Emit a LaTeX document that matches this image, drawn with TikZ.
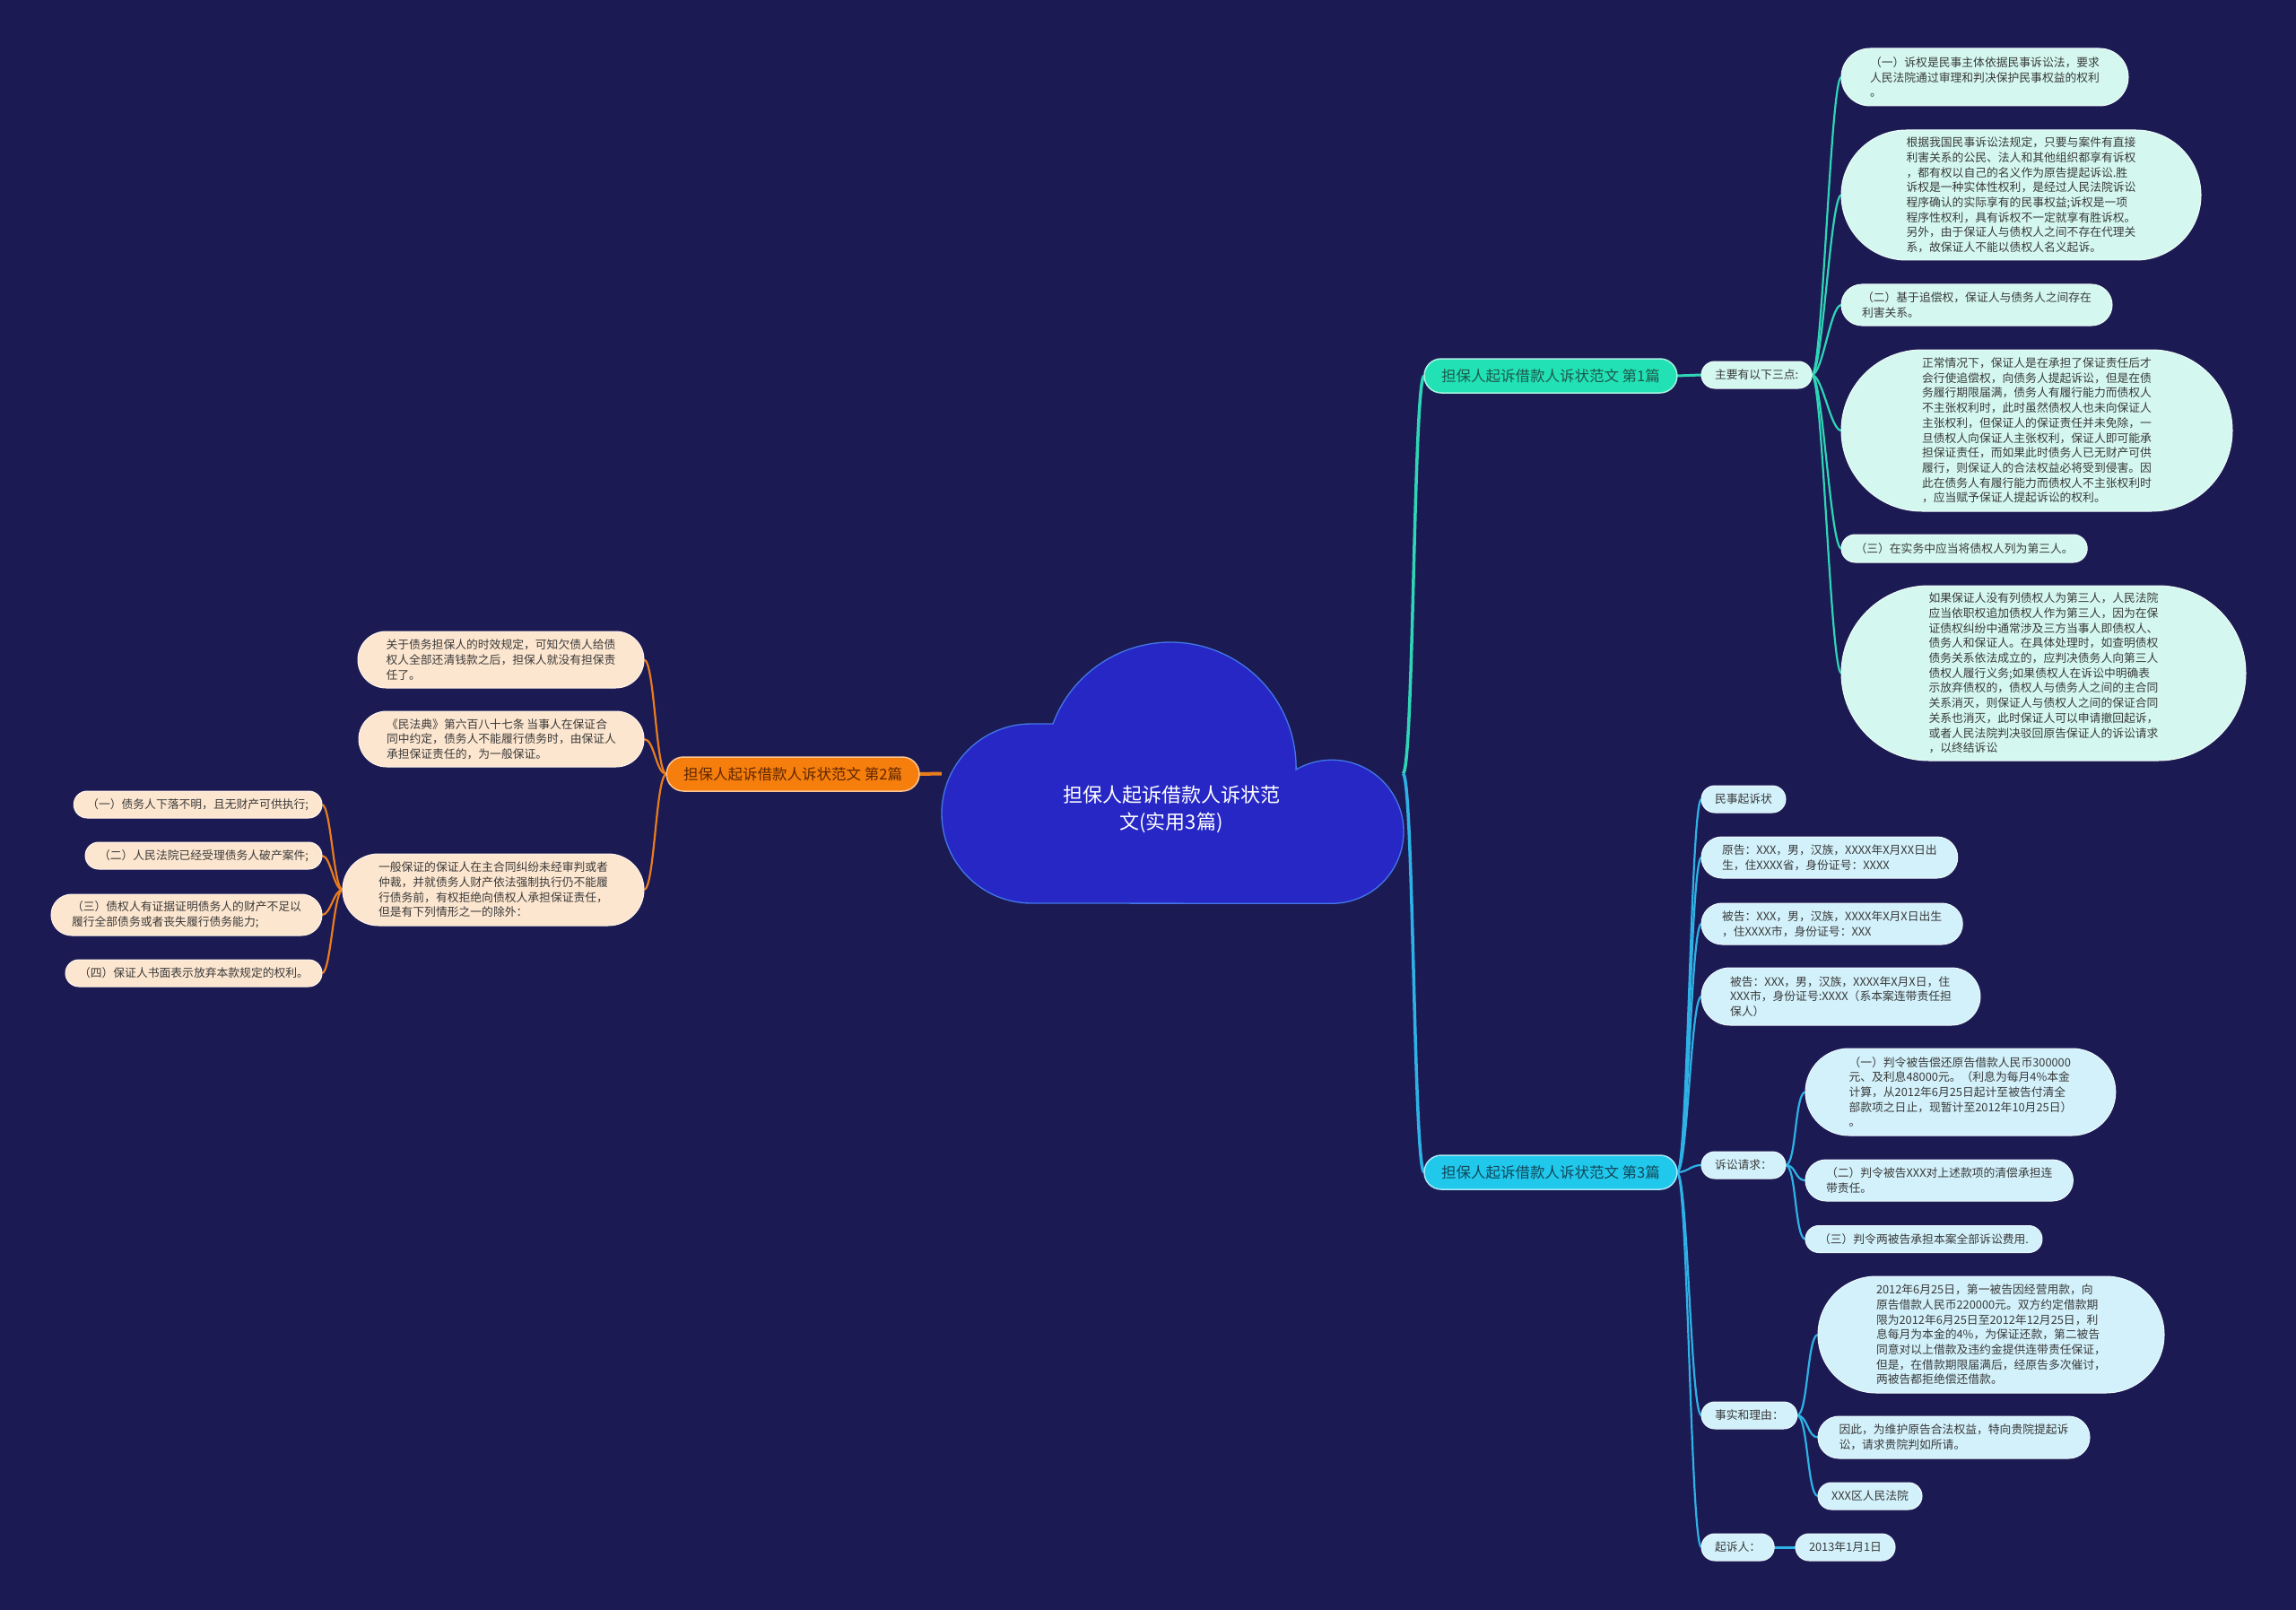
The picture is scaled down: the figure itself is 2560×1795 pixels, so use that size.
\documentclass[tikz,border=0pt]{standalone}
\usepackage{fontspec}
\setmainfont{Noto Sans CJK SC}
\pgfdeclarelayer{bg}
\pgfdeclarelayer{lines}
\pgfsetlayers{bg,lines,main}
\definecolor{bgc}{HTML}{1C1A53}
\definecolor{cloudfill}{HTML}{2727C6}
\definecolor{cloudline}{HTML}{4277E8}
\definecolor{gfill}{HTML}{22E1B5}
\definecolor{gline}{HTML}{2ED6B6}
\definecolor{gtext}{HTML}{1D5A4D}
\definecolor{gsub}{HTML}{D4F8EF}
\definecolor{ofill}{HTML}{F67E0D}
\definecolor{oline}{HTML}{E97D1E}
\definecolor{otext}{HTML}{5E2700}
\definecolor{osub}{HTML}{FDE6CF}
\definecolor{bfill}{HTML}{20C8EC}
\definecolor{bline}{HTML}{2EB2E6}
\definecolor{btext}{HTML}{12475A}
\definecolor{bsub}{HTML}{D2F1FB}
\definecolor{ntext}{HTML}{3A3A3A}
\newcommand\smallfs{\fontsize{12.8pt}{16.7pt}\selectfont}
\newcommand\midfs{\fontsize{16.5pt}{20pt}\selectfont}
\newcommand\bigfs{\fontsize{22pt}{30pt}\selectfont}
\tikzset{
  ht/.style={minimum height=#1pt, /utils/exec={\pgfmathsetmacro\halfht{#1/2}},
    inner xsep=\halfht pt, rounded corners=\halfht pt},
  pill/.style={rectangle, inner ysep=0pt, outer sep=0pt, align=left, line width=1pt},
  gnode/.style={pill, fill=gsub, draw=white!55!gsub, text=ntext, font=\smallfs},
  bnode/.style={pill, fill=bsub, draw=white!55!bsub, text=ntext, font=\smallfs},
  onode/.style={pill, fill=osub, draw=white!55!osub, text=ntext, font=\smallfs},
  gmain/.style={pill, fill=gfill, draw=white!60!gfill, line width=1.5pt, text=gtext, font=\midfs},
  bmain/.style={pill, fill=bfill, draw=white!60!bfill, line width=1.5pt, text=btext, font=\midfs},
  omain/.style={pill, fill=ofill, draw=white!55!ofill, line width=1.5pt, text=otext, font=\midfs},
  gc/.style={draw=gline, line width=2.2pt},
  bc/.style={draw=bline, line width=2.2pt},
  oc/.style={draw=oline, line width=2.2pt},
}
\begin{document}
\begin{tikzpicture}[x=1pt,y=-1pt]
\useasboundingbox (0,0) rectangle (2560,1795);
\begin{pgfonlayer}{bg}
\fill[bgc] (0,0) rectangle (2560,1795);
\end{pgfonlayer}

% central cloud
\filldraw[fill=cloudfill, draw=cloudline, line width=1.3pt]
  (1150,1007) arc[start angle=90, end angle=270, radius=100]
  -- (1174,807) arc[start angle=200.5, end angle=360, radius=140]
  -- (1445,858) arc[start angle=240, end angle=450, radius=80]
  -- cycle;
\node[minimum width=514pt, minimum height=293pt, inner sep=0pt] (root) at (1307,862.5) {};
\node[text=white, font=\bigfs, align=center] (roottext) at (1306,902) {担保人起诉借款人诉状范\\文(实用3篇)};

% branch 1
\node[gmain, ht=38, anchor=west] (br1) at (1588,419) {担保人起诉借款人诉状范文 第1篇};
\node[gnode, ht=30, anchor=west] (k1) at (1897,418) {主要有以下三点:};
\node[gnode, ht=64, anchor=west] (A1) at (2053,86) {（一）诉权是民事主体依据民事诉讼法，要求\\人民法院通过审理和判决保护民事权益的权利\\。};
\node[gnode, ht=145, anchor=west] (A2) at (2053,217.5) {根据我国民事诉讼法规定，只要与案件有直接\\利害关系的公民、法人和其他组织都享有诉权\\，都有权以自己的名义作为原告提起诉讼.胜\\诉权是一种实体性权利，是经过人民法院诉讼\\程序确认的实际享有的民事权益;诉权是一项\\程序性权利，具有诉权不一定就享有胜诉权。\\另外，由于保证人与债权人之间不存在代理关\\系，故保证人不能以债权人名义起诉。};
\node[gnode, ht=46, anchor=west] (A3) at (2053,340) {（二）基于追偿权，保证人与债务人之间存在\\利害关系。};
\node[gnode, ht=180, anchor=west] (A4) at (2053,480) {正常情况下，保证人是在承担了保证责任后才\\会行使追偿权，向债务人提起诉讼，但是在债\\务履行期限届满，债务人有履行能力而债权人\\不主张权利时，此时虽然债权人也未向保证人\\主张权利，但保证人的保证责任并未免除，一\\旦债权人向保证人主张权利，保证人即可能承\\担保证责任，而如果此时债务人已无财产可供\\履行，则保证人的合法权益必将受到侵害。因\\此在债务人有履行能力而债权人不主张权利时\\，应当赋予保证人提起诉讼的权利。};
\node[gnode, ht=31, anchor=west] (A5) at (2053,611.5) {（三）在实务中应当将债权人列为第三人。};
\node[gnode, ht=195, anchor=west] (A6) at (2053,750.5) {如果保证人没有列债权人为第三人，人民法院\\应当依职权追加债权人作为第三人，因为在保\\证债权纠纷中通常涉及三方当事人即债权人、\\债务人和保证人。在具体处理时，如查明债权\\债务关系依法成立的，应判决债务人向第三人\\债权人履行义务;如果债权人在诉讼中明确表\\示放弃债权的，债权人与债务人之间的主合同\\关系消灭，则保证人与债权人之间的保证合同\\关系也消灭，此时保证人可以申请撤回起诉，\\或者人民法院判决驳回原告保证人的诉讼请求\\，以终结诉讼};

% branch 3
\node[bmain, ht=38, anchor=west] (br3) at (1588,1307) {担保人起诉借款人诉状范文 第3篇};
\node[bnode, ht=30, anchor=west] (B1) at (1897,891) {民事起诉状};
\node[bnode, ht=46, anchor=west] (B2) at (1897,956) {原告：XXX，男，汉族，XXXX年X月XX日出\\生，住XXXX省，身份证号：XXXX};
\node[bnode, ht=46, anchor=west] (B3) at (1897,1030) {被告：XXX，男，汉族，XXXX年X月X日出生\\，住XXXX市，身份证号：XXX};
\node[bnode, ht=64, anchor=west] (B4) at (1897,1111) {被告：XXX，男，汉族，XXXX年X月X日，住\\XXX市，身份证号:XXXX（系本案连带责任担\\保人）};
\node[bnode, ht=30, anchor=west] (B5) at (1897,1299) {诉讼请求：};
\node[bnode, ht=97, anchor=west] (C1) at (2013,1217.5) {（一）判令被告偿还原告借款人民币300000\\元、及利息48000元。（利息为每月4\%本金\\计算，从2012年6月25日起计至被告付清全\\部款项之日止，现暂计至2012年10月25日）\\。};
\node[bnode, ht=46, anchor=west] (C2) at (2013,1316) {（二）判令被告XXX对上述款项的清偿承担连\\带责任。};
\node[bnode, ht=30, anchor=west] (C3) at (2013,1381.5) {（三）判令两被告承担本案全部诉讼费用.};
\node[bnode, ht=30, anchor=west] (B6) at (1897,1578) {事实和理由：};
\node[bnode, ht=130, anchor=west] (D1) at (2027,1488) {2012年6月25日，第一被告因经营用款，向\\原告借款人民币220000元。双方约定借款期\\限为2012年6月25日至2012年12月25日，利\\息每月为本金的4\%，为保证还款，第二被告\\同意对以上借款及违约金提供连带责任保证，\\但是，在借款期限届满后，经原告多次催讨，\\两被告都拒绝偿还借款。};
\node[bnode, ht=47, anchor=west] (D2) at (2027,1602.5) {因此，为维护原告合法权益，特向贵院提起诉\\讼，请求贵院判如所请。};
\node[bnode, ht=30, anchor=west] (D3) at (2027,1668) {XXX区人民法院};
\node[bnode, ht=30, anchor=west] (B7) at (1897,1725) {起诉人：};
\node[bnode, ht=30, anchor=west] (E1) at (2002,1725) {2013年1月1日};

% branch 2
\node[omain, ht=38, anchor=east] (br2) at (1025,863) {担保人起诉借款人诉状范文 第2篇};
\node[onode, ht=63, anchor=east] (L1) at (718,735.5) {关于债务担保人的时效规定，可知欠债人给债\\权人全部还清钱款之后，担保人就没有担保责\\任了。};
\node[onode, ht=62, anchor=east] (L2) at (718,824) {《民法典》第六百八十七条 当事人在保证合\\同中约定，债务人不能履行债务时，由保证人\\承担保证责任的，为一般保证。};
\node[onode, ht=80, anchor=east] (L3) at (718,992) {一般保证的保证人在主合同纠纷未经审判或者\\仲裁，并就债务人财产依法强制执行仍不能履\\行债务前，有权拒绝向债权人承担保证责任，\\但是有下列情形之一的除外：};
\node[onode, ht=30, anchor=east] (M1) at (359,897) {（一）债务人下落不明，且无财产可供执行;};
\node[onode, ht=30, anchor=east] (M2) at (359,954) {（二）人民法院已经受理债务人破产案件;};
\node[onode, ht=46, anchor=east] (M3) at (359,1020) {（三）债权人有证据证明债务人的财产不足以\\履行全部债务或者丧失履行债务能力;};
\node[onode, ht=30, anchor=east] (M4) at (359,1085) {（四）保证人书面表示放弃本款规定的权利。};

\begin{pgfonlayer}{lines}
% root connectors
\draw[gc, line width=3.5pt] (root.east) .. controls +(12,0) and +(-12,0) .. (br1.west);
\draw[bc, line width=3.5pt] (root.east) .. controls +(12,0) and +(-12,0) .. (br3.west);
\draw[oc, line width=4pt] (root.west) -- (br2.east);
% branch 1
\draw[gc, line width=3pt] (br1.east) -- (k1.west);
\foreach \n in {A1,A2,A3,A4,A5,A6}
  \draw[gc] (k1.east) .. controls +(12,0) and +(-12,0) .. (\n.west);
% branch 3
\foreach \n in {B1,B2,B3,B4,B5,B6,B7}
  \draw[bc] (br3.east) .. controls +(12,0) and +(-12,0) .. (\n.west);
\foreach \n in {C1,C2,C3}
  \draw[bc] (B5.east) .. controls +(12,0) and +(-12,0) .. (\n.west);
\foreach \n in {D1,D2,D3}
  \draw[bc] (B6.east) .. controls +(12,0) and +(-12,0) .. (\n.west);
\draw[bc, line width=3pt] (B7.east) -- (E1.west);
% branch 2
\foreach \n in {L1,L2,L3}
  \draw[oc] (br2.west) .. controls +(-12,0) and +(12,0) .. (\n.east);
\foreach \n in {M1,M2,M3,M4}
  \draw[oc] (L3.west) .. controls +(-10,0) and +(10,0) .. (\n.east);
\end{pgfonlayer}
\end{tikzpicture}
\end{document}
